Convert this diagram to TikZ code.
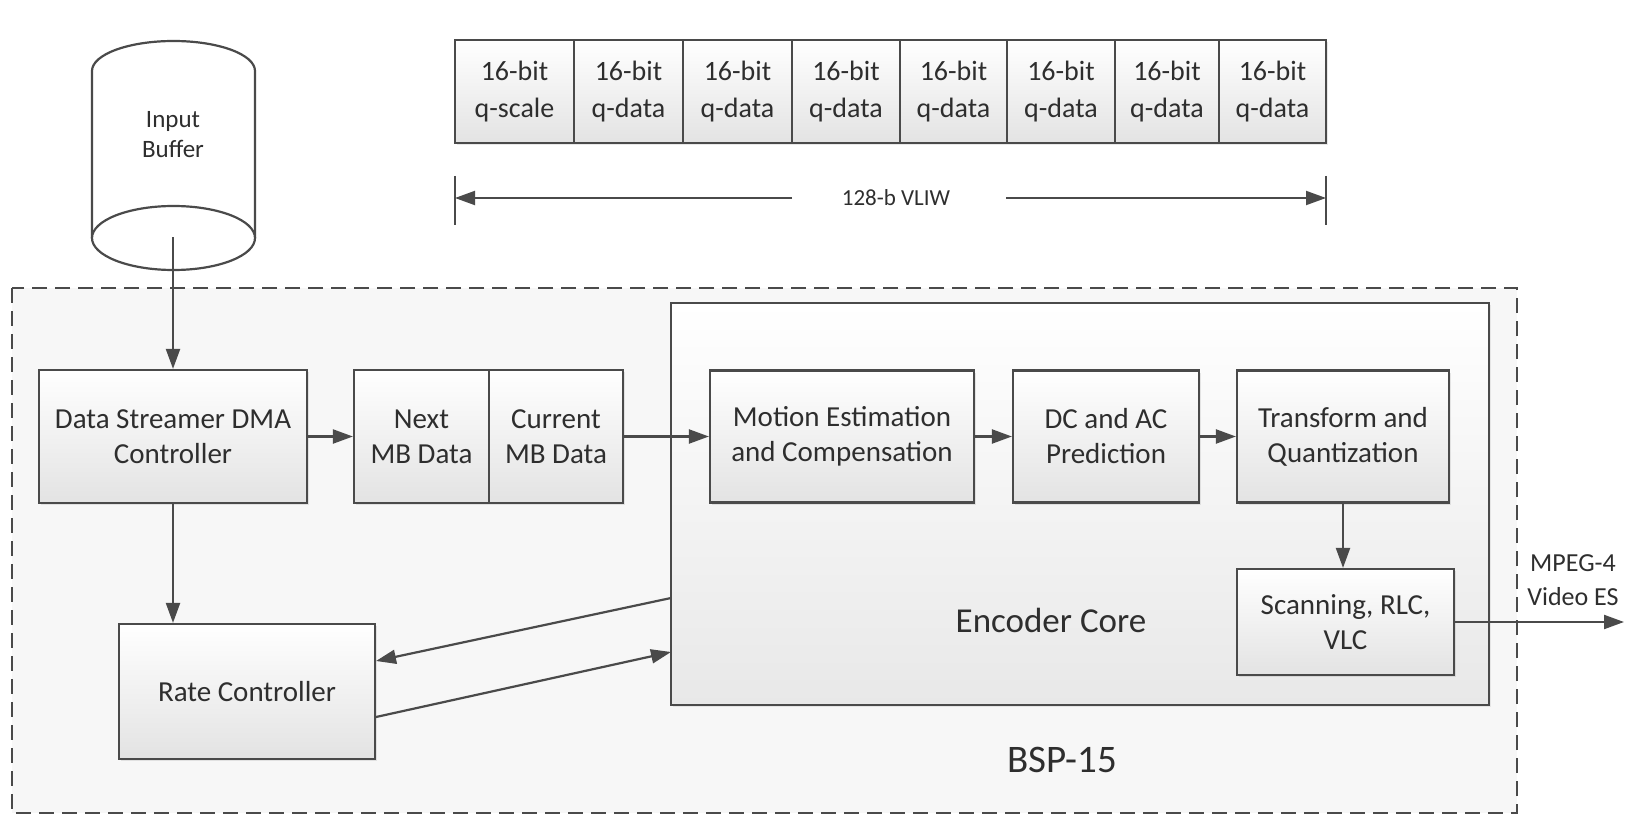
\documentclass[tikz,border=0pt]{standalone}
\usepackage{fontspec}
\setmainfont{Carlito}
\usetikzlibrary{arrows.meta,shadows,calc}
\definecolor{ln}{HTML}{4A4A4A}
\definecolor{tx}{HTML}{2E2E2E}
\begin{document}
\begin{tikzpicture}[x=1pt,y=-1pt,
  blk/.style={draw=ln, line width=2.2pt, top color=white, bottom color=black!11, text=tx, align=center,
    font=\fontsize{29}{35}\selectfont, inner sep=0pt,
    drop shadow={opacity=0.18, shadow xshift=2pt, shadow yshift=-2pt}},
  cell/.style={blk, font=\fontsize{28}{37}\selectfont, minimum height=103pt},
  arr/.style={draw=ln, line width=2.2pt, -{Triangle[length=20pt,width=14pt]}},
  lbl/.style={text=tx, align=center, inner sep=0pt},
]
\useasboundingbox (0,0) rectangle (1642,832);

% outer dashed region
\draw[draw=ln, line width=2.5pt, dash pattern=on 15pt off 8pt, fill=black!3] (12,288) rectangle (1517,813);
\node[lbl, font=\fontsize{39}{44}\selectfont] (bsp) at (1062,760) {BSP-15};

% encoder core
\node[draw=ln, line width=2.2pt, top color=white, bottom color=black!9, minimum width=818pt, minimum height=402pt,
  drop shadow={opacity=0.15, shadow xshift=2pt, shadow yshift=-2pt}] (enc) at (1080,504) {};
\node[lbl, font=\fontsize{35}{40}\selectfont] (enclbl) at (1051,620) {Encoder Core};

% input buffer cylinder
\draw[draw=ln, line width=2.2pt, fill=white] (92,238) -- (92,71) arc[start angle=180, end angle=0, x radius=81.5pt, y radius=30pt] -- (255,238);
\draw[draw=ln, line width=2.2pt, fill=white] (173.5,238) ellipse[x radius=81.5pt, y radius=32pt];
\node[lbl, font=\fontsize{25}{30}\selectfont] (ib) at (173,135) {Input\\Buffer};
\coordinate (ibc) at (173,237);

% register
\node[cell, minimum width=119pt] (c1) at (514.5,91.5) {16-bit\\q-scale};
\node[cell, minimum width=109pt] (c2) at (628.5,91.5) {16-bit\\q-data};
\node[cell, minimum width=109pt] (c3) at (737.5,91.5) {16-bit\\q-data};
\node[cell, minimum width=108pt] (c4) at (846,91.5) {16-bit\\q-data};
\node[cell, minimum width=107pt] (c5) at (953.5,91.5) {16-bit\\q-data};
\node[cell, minimum width=108pt] (c6) at (1061,91.5) {16-bit\\q-data};
\node[cell, minimum width=104pt] (c7) at (1167,91.5) {16-bit\\q-data};
\node[cell, minimum width=107pt] (c8) at (1272.5,91.5) {16-bit\\q-data};

% dimension
\coordinate (dl) at (455,198);
\coordinate (dr) at (1326,198);
\coordinate (dlm) at (792,198);
\coordinate (drm) at (1006,198);
\draw[draw=ln, line width=2pt] (455,176) -- (455,225);
\draw[draw=ln, line width=2pt] (1326,176) -- (1326,225);
\draw[arr, line width=2pt] (dlm) -- (dl);
\draw[arr, line width=2pt] (drm) -- (dr);
\node[lbl, font=\fontsize{23}{27}\selectfont] (vliw) at (896,198) {128-b VLIW};

% blocks
\node[blk, minimum width=268pt, minimum height=133pt] (dma) at (173,436.5) {Data Streamer DMA\\Controller};
\node[blk, minimum width=135pt, minimum height=133pt] (nxt) at (421.5,436.5) {Next\\MB Data};
\node[blk, minimum width=134pt, minimum height=133pt] (cur) at (556,436.5) {Current\\MB Data};
\node[blk, minimum width=264pt, minimum height=132pt] (mot) at (842,436.5) {Motion Estimation\\and Compensation};
\node[blk, minimum width=186pt, minimum height=132pt] (dcac) at (1106,436.5) {DC and AC\\Prediction};
\node[blk, minimum width=212pt, minimum height=132pt] (tq) at (1343,436.5) {Transform and\\Quantization};
\node[blk, minimum width=217pt, minimum height=106pt] (scan) at (1345.5,622) {Scanning, RLC,\\VLC};
\node[blk, minimum width=256pt, minimum height=135pt] (rate) at (247,691.5) {Rate Controller};

\node[lbl, font=\fontsize{26}{34}\selectfont] (mpeg) at (1573,580) {MPEG-4\\Video ES};
\coordinate (out) at (1624,622);

% connectors
\draw[arr] (ibc) -- (dma.north);
\draw[arr] (dma.east) -- (nxt.west);
\draw[arr] (cur.east) -- (mot.west);
\draw[arr] (mot.east) -- (dcac.west);
\draw[arr] (dcac.east) -- (tq.west);
\draw[arr] (tq.south) -- (tq.south |- scan.north);
\draw[arr] (scan.east) -- (out);
\draw[arr] (dma.south) -- (rate.north -| dma.south);
\coordinate (e1) at (671,598);
\coordinate (r1) at (376,661);
\coordinate (r2) at (376,717);
\coordinate (e2) at (671,652);
\draw[arr] (e1) -- (r1);
\draw[arr] (r2) -- (e2);
\end{tikzpicture}
\end{document}
